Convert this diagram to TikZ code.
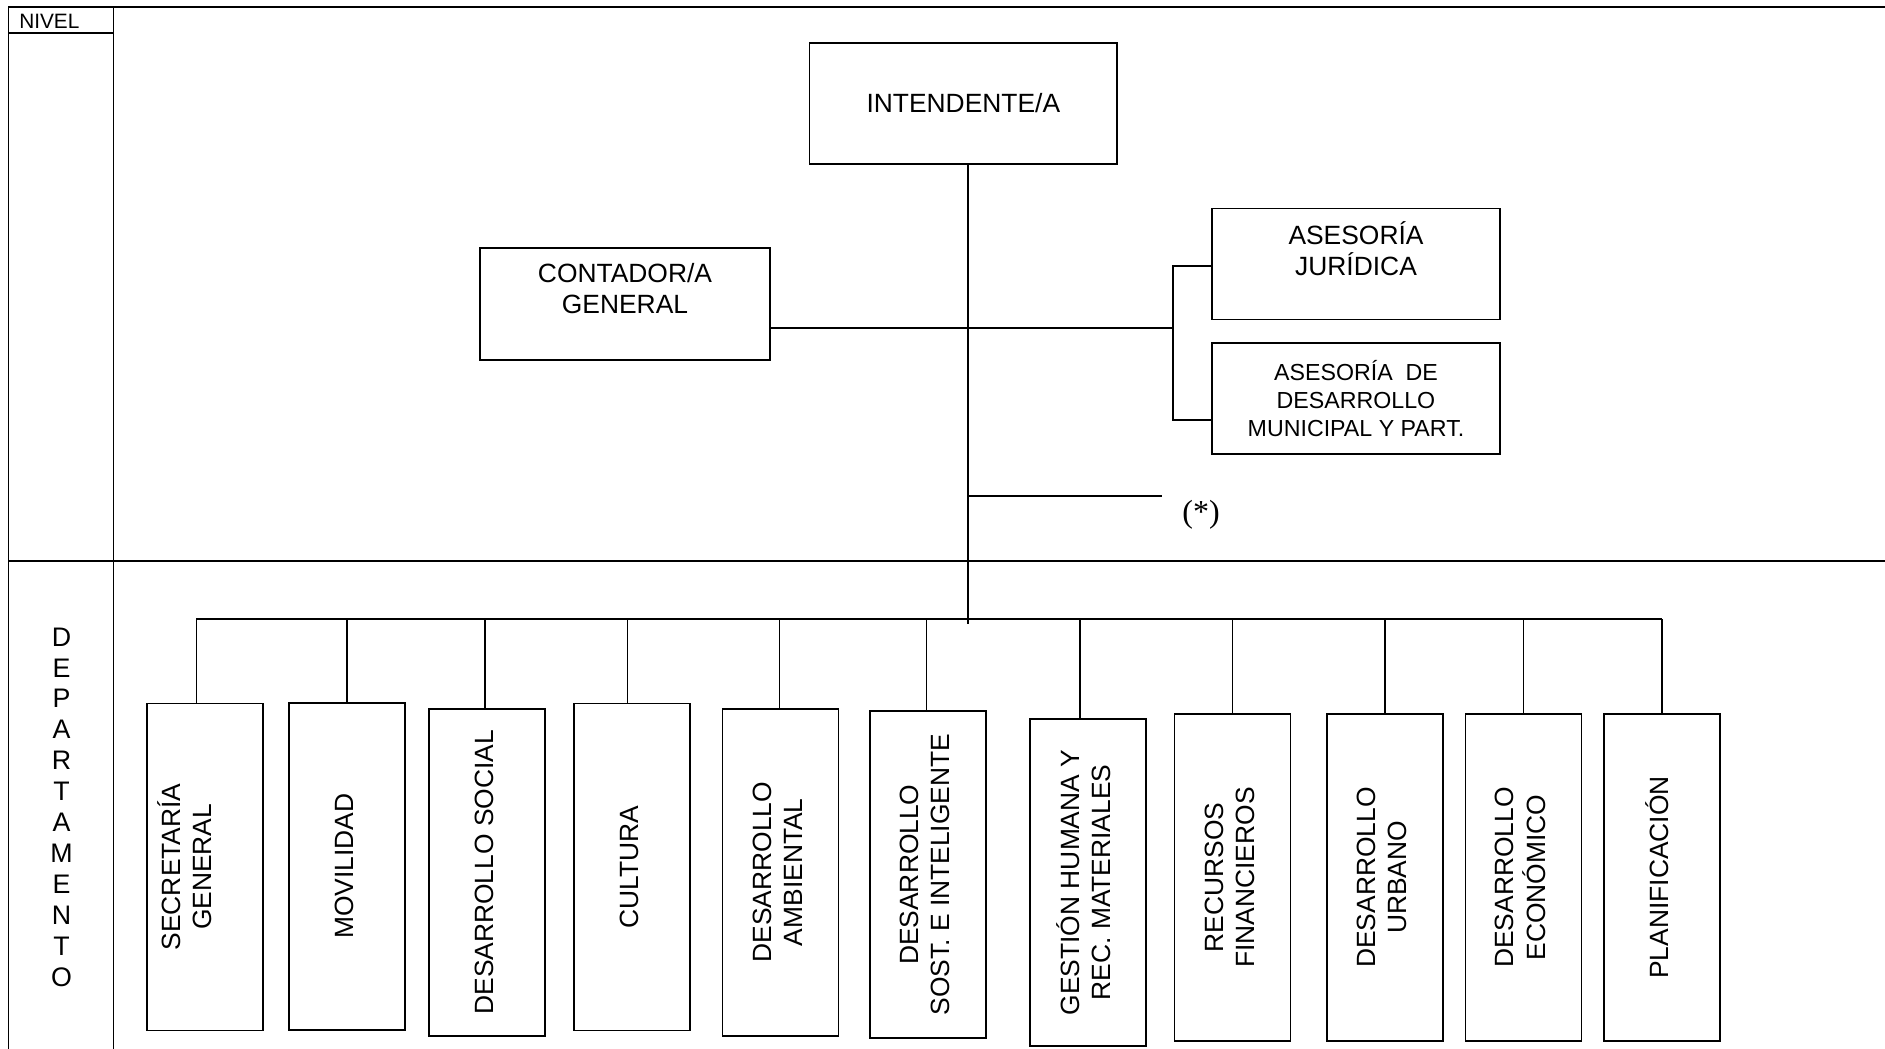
\documentclass[tikz,border=0pt]{standalone}
\usepackage{fontspec}
\usepackage{graphicx}
\setmainfont{Liberation Sans}
\newfontfamily\serifast{Liberation Serif}
\newcommand\vtext[1]{\rotatebox{90}{\begin{tabular}{@{}c@{}}#1\end{tabular}}}
\begin{document}
\begin{tikzpicture}[x=0.5pt,y=-0.5pt,line width=0.8pt,
  box/.style={draw,line width=0.8pt,align=center,inner sep=0pt,font=\fontsize{13.2}{15.5}\selectfont},
  dept/.style={box,minimum width=58pt,minimum height=163.5pt},
  small/.style={box,font=\fontsize{11.6}{13.8}\selectfont}]
\useasboundingbox (0,0) rectangle (1885,1049);
% frame
\coordinate (fTL) at (8.4,6.7);
\coordinate (fBL) at (8.4,1049);
\coordinate (fTR) at (1885,6.7);
\coordinate (cT) at (113.6,6.7);
\coordinate (cB) at (113.6,1049);
\coordinate (nL) at (8.4,33);
\coordinate (nR) at (113.6,33);
\coordinate (dL) at (8.4,560.7);
\coordinate (dR) at (1885,560.7);
\draw (fBL) -- (fTL) -- (fTR);
\draw (cT) -- (cB);
\draw (nL) -- (nR);
\draw (dL) -- (dR);
\node[anchor=base west,inner sep=0pt,font=\fontsize{10.4}{12}\selectfont] (nivel) at (18.5,28.3) {NIVEL};
\node[align=center,inner sep=0pt,font=\fontsize{13.4}{15.45}\selectfont] (depto) at (61.6,807)
  {D\\E\\P\\A\\R\\T\\A\\M\\E\\N\\T\\O};
% top nodes
\node[box,minimum width=153.75pt,minimum height=60.5pt] (int) at (963.3,103.5) {INTENDENTE/A};
\node[box,minimum width=145pt,minimum height=56pt] (cont) at (625,304) {CONTADOR/A\\GENERAL\\\mbox{}};
\node[box,minimum width=144pt,minimum height=55.5pt] (jur) at (1356,264.1) {ASESORÍA\\JURÍDICA\\\mbox{}};
\node[small,minimum width=144pt,minimum height=55.5pt] (ases) at (1356,398.5) {ASESORÍA\ \ DE\\DESARROLLO\\MUNICIPAL Y PART.};
\node[font=\serifast\fontsize{16}{19}\selectfont,inner sep=0pt] (ast) at (1201,515) {(*)};
% connectors top
\coordinate (tk) at (968,624);
\coordinate (brk) at (1173,328);
\coordinate (astL) at (968,496);
\coordinate (astR) at (1162,496);
\draw (int.south -| tk) -- (tk);
\draw (cont.east |- brk) -- (brk);
\draw ([yshift=-1pt]jur.west) -| (brk) |- ([yshift=-10.75pt]ases.west);
\draw (astL) -- (astR);
% departments
\node[dept] (sec) at (205.2,866.9) {\vtext{SECRETARÍA\\GENERAL\\\mbox{}}};
\node[dept] (mov) at (347,866.2) {\vtext{MOVILIDAD}};
\node[dept] (soc) at (487.2,872.3) {\vtext{DESARROLLO SOCIAL}};
\node[dept] (cul) at (631.9,867) {\vtext{CULTURA}};
\node[dept] (amb) at (780.4,872.3) {\vtext{DESARROLLO\\AMBIENTAL}};
\node[dept] (sost) at (927.7,874.7) {\vtext{DESARROLLO\\SOST. E INTELIGENTE}};
\node[dept] (ges) at (1088.2,882.5) {\vtext{GESTIÓN HUMANA Y\\REC. MATERIALES}};
\node[dept] (rec) at (1232.5,877.5) {\vtext{RECURSOS\\FINANCIEROS}};
\node[dept] (urb) at (1384.8,877.5) {\vtext{DESARROLLO\\URBANO}};
\node[dept] (eco) at (1523.5,877.5) {\vtext{DESARROLLO\\ECONÓMICO}};
\node[dept] (pla) at (1661.9,877.5) {\vtext{PLANIFICACIÓN}};
% bus
\coordinate (busL) at (196.4,619);
\coordinate (busR) at (1661.5,619);
\draw (busL) -- (busR);
\draw ([xshift=-4.4pt]sec.north) -- ([xshift=-4.4pt]sec.north |- busL);
\draw (mov.north) -- (mov.north |- busL);
\draw ([xshift=-1.2pt]soc.north) -- ([xshift=-1.2pt]soc.north |- busL);
\draw ([xshift=-2.15pt]cul.north) -- ([xshift=-2.15pt]cul.north |- busL);
\draw ([xshift=-0.45pt]amb.north) -- ([xshift=-0.45pt]amb.north |- busL);
\draw ([xshift=-0.7pt]sost.north) -- ([xshift=-0.7pt]sost.north |- busL);
\draw ([xshift=-4.1pt]ges.north) -- ([xshift=-4.1pt]ges.north |- busL);
\draw (rec.north) -- (rec.north |- busL);
\draw (urb.north) -- (urb.north |- busL);
\draw (eco.north) -- (eco.north |- busL);
\draw (pla.north) -- (pla.north |- busL);
\end{tikzpicture}
\end{document}
